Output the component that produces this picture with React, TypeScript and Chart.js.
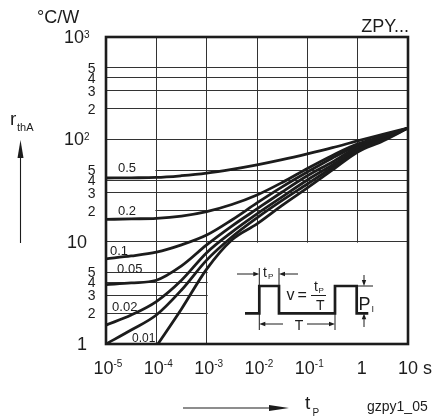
import { useEffect, useRef } from 'react';
import { Chart, registerables } from 'chart.js';

Chart.register(...registerables);

const FONT = '"Liberation Sans", Arial, Helvetica, sans-serif';
const INK = '#1c1c1c';

// pulse duration t_P in seconds (half-decade steps)
const tp = [1e-5, 3.16e-5, 1e-4, 3.16e-4, 1e-3, 3.16e-3, 1e-2, 3.16e-2, 1e-1, 0.316, 1, 3.16, 10];

// r_thA in °C/W for each duty cycle v
const r05 = [41.9, 42.1, 42.4, 44.1, 46.7, 50.8, 56.2, 63.2, 72.0, 82.8, 96.5, 111.6, 129];
const r02 = [16.5, 16.7, 16.9, 17.8, 19.7, 23.1, 28.6, 37.9, 51.9, 69.6, 90.2, 106.7, 129];
const r01 = [6.8, 7.25, 7.9, 9.3, 11.6, 16.3, 23.9, 34.3, 47.9, 65.8, 87.2, 105.6, 129];
const r005 = [3.8, 3.95, 4.2, 5.8, 9.3, 14.2, 20.9, 30.6, 44, 60.1, 84.3, 103.2, 129];
const r002 = [1.53, 1.92, 2.6, 4.2, 7.8, 12.4, 18.7, 27.4, 40.1, 56.2, 80.5, 100.8, 129];
const r001 = [1.0, 1.37, 1.92, 3.37, 6.6, 11.1, 17.1, 25.3, 36.6, 53.1, 77.9, 98.7, 129];
const rSingle = [null, null, 0.95, 2.2, 5.4, 10.4, 14.9, 22.6, 33.5, 50.2, 75.3, 96.5, 129];

const series = [r05, r02, r01, r005, r002, r001, rSingle];

// curve labels
const curveNames = ['0.5', '0.2', '0.1', '0.05', '0.02', '0.01'];
const labelT = [1.73e-5, 1.73e-5, 1.2e-5, 1.66e-5, 1.32e-5, 3.29e-5];
const labelV = [48, 18.2, 7.4, 4.94, 2.1, 1.05];

// axis ticks
const xTicks = [1e-5, 1e-4, 1e-3, 1e-2, 1e-1, 1, 10];
const xTickBase = ['10', '10', '10', '10', '10', '1', '10 s'];
const xTickSup = ['-5', '-4', '-3', '-2', '-1', '', ''];

const yTicks = [1, 2, 3, 4, 5, 10, 20, 30, 40, 50, 100, 200, 300, 400, 500, 1000];
const yTickBase = ['1', '2', '3', '4', '5', '10', '2', '3', '4', '5', '10', '2', '3', '4', '5', '10'];
const yTickSup = ['', '', '', '', '', '', '', '', '', '', '2', '', '', '', '', '3'];
const yTickMajor = [true, false, false, false, false, true, false, false, false, false, true, false, false, false, false, true];

function txt(ctx: CanvasRenderingContext2D, s: string, x: number, y: number, size: number, align: CanvasTextAlign = 'left') {
  ctx.font = `${size}px ${FONT}`;
  ctx.textAlign = align;
  ctx.textBaseline = 'alphabetic';
  ctx.fillText(s, x, y);
}

function head(ctx: CanvasRenderingContext2D, x: number, y: number, dir: string, len = 6, hw = 2.2) {
  ctx.beginPath();
  ctx.moveTo(x, y);
  if (dir === 'r') { ctx.lineTo(x - len, y - hw); ctx.lineTo(x - len, y + hw); }
  if (dir === 'l') { ctx.lineTo(x + len, y - hw); ctx.lineTo(x + len, y + hw); }
  if (dir === 'u') { ctx.lineTo(x - hw, y + len); ctx.lineTo(x + hw, y + len); }
  if (dir === 'd') { ctx.lineTo(x - hw, y - len); ctx.lineTo(x + hw, y - len); }
  ctx.closePath();
  ctx.fill();
}

function line(ctx: CanvasRenderingContext2D, pts: number[][], w: number) {
  ctx.lineWidth = w;
  ctx.beginPath();
  pts.forEach((p, i) => (i ? ctx.lineTo(p[0], p[1]) : ctx.moveTo(p[0], p[1])));
  ctx.stroke();
}

const decor = {
  id: 'decor',
  beforeDatasetsDraw(chart: any) {
    const { ctx, chartArea: a, scales } = chart;
    const x = scales.x, y = scales.y;
    ctx.save();
    ctx.fillStyle = '#fff';
    // blank region holding the pulse diagram
    const bx = x.getPixelForValue(1e-3) + 1;
    const by = y.getPixelForValue(10) + 1;
    ctx.fillRect(bx, by, a.right - bx, a.bottom - by);
    // gaps in grid behind the 0.5 and 0.2 labels
    const x0 = x.getPixelForValue(1e-5) + 1;
    const x1 = x.getPixelForValue(1e-4) - 1;
    [50, 20].forEach((v) => {
      const py = y.getPixelForValue(v);
      ctx.fillRect(x0, py - 2, x1 - x0, 4);
    });
    ctx.restore();
  },
  afterDatasetsDraw(chart: any) {
    const { ctx, chartArea: a, scales } = chart;
    const x = scales.x, y = scales.y;
    ctx.save();
    ctx.fillStyle = INK;
    ctx.strokeStyle = INK;
    ctx.lineCap = 'butt';
    ctx.lineJoin = 'miter';

    // frame
    ctx.lineWidth = 2.6;
    ctx.strokeRect(a.left, a.top, a.right - a.left, a.bottom - a.top);

    // curve labels
    curveNames.forEach((s, i) => {
      txt(ctx, s, x.getPixelForValue(labelT[i]), y.getPixelForValue(labelV[i]), i === 5 ? 12 : 13);
    });

    // y tick labels
    yTicks.forEach((v, i) => {
      const py = y.getPixelForValue(v);
      if (yTickSup[i]) {
        txt(ctx, yTickBase[i], a.left - 22, py + 6, 18, 'right');
        txt(ctx, yTickSup[i], a.left - 22, py + 1, 10, 'left');
      } else if (yTickMajor[i]) {
        txt(ctx, yTickBase[i], a.left - 19, py + 6, 18, 'right');
      } else {
        txt(ctx, yTickBase[i], a.left - 10.5, py + 5, 14, 'right');
      }
    });

    // x tick labels
    xTicks.forEach((v, i) => {
      const px = x.getPixelForValue(v);
      const base = a.bottom + 30;
      if (xTickSup[i]) {
        txt(ctx, xTickBase[i], px - 12.5, base, 18);
        txt(ctx, xTickSup[i], px + 7.5, base - 7, 10);
      } else if (xTickBase[i] === '1') {
        txt(ctx, '1', px - 1, base, 18);
      } else {
        txt(ctx, xTickBase[i], px - 10, base, 18);
      }
    });

    // unit & type
    txt(ctx, '°C/W', 37, 23, 18);
    txt(ctx, 'ZPY...', a.right + 1, 32, 18, 'right');

    // y axis name with arrow
    txt(ctx, 'r', 10, 125, 19);
    txt(ctx, 'thA', 17, 130.5, 11);
    line(ctx, [[20.5, 243], [20.5, 150]], 1.1);
    head(ctx, 20.5, 140, 'u', 18, 3);

    // x axis name with arrow
    line(ctx, [[183, 408], [275, 408]], 1.1);
    head(ctx, 289, 408, 'r', 20, 3);
    txt(ctx, 't', 305, 409, 19);
    txt(ctx, 'P', 312.5, 416, 10);
    txt(ctx, 'gzpy1_05', 367, 411, 14);

    // pulse diagram
    line(ctx, [[245, 313.3], [259.3, 313.3], [259.3, 286], [279, 286], [279, 313.3], [335, 313.3], [335, 286], [356.7, 286], [356.7, 313.3], [368.3, 313.3]], 2.7);
    // t_P dimension
    line(ctx, [[259.3, 268], [259.3, 286]], 1);
    line(ctx, [[279, 268], [279, 286]], 1);
    line(ctx, [[237, 274], [254, 274]], 1);
    head(ctx, 259.3, 274, 'r');
    line(ctx, [[284, 274], [298, 274]], 1);
    head(ctx, 279, 274, 'l');
    txt(ctx, 't', 263, 277, 14);
    txt(ctx, 'P', 268, 279, 8);
    // v = tP / T
    txt(ctx, 'v', 286.5, 300, 16);
    txt(ctx, '=', 297.5, 300, 16);
    txt(ctx, 't', 314, 291, 14);
    txt(ctx, 'P', 318.5, 293, 8);
    line(ctx, [[311, 295.5], [326, 295.5]], 1);
    txt(ctx, 'T', 316, 310, 14);
    // P_I dimension
    line(ctx, [[356.7, 286], [373, 286]], 1);
    line(ctx, [[364, 275], [364, 281]], 1);
    head(ctx, 364, 286, 'd');
    line(ctx, [[364, 319], [364, 327]], 1);
    head(ctx, 364, 313.3, 'u');
    txt(ctx, 'P', 358.5, 310, 18);
    txt(ctx, 'I', 371.5, 312, 9);
    // T dimension
    line(ctx, [[259.3, 314], [259.3, 330]], 1);
    line(ctx, [[335, 314], [335, 330]], 1);
    line(ctx, [[264, 324], [283, 324]], 1);
    head(ctx, 259.3, 324, 'l');
    line(ctx, [[307, 324], [330, 324]], 1);
    head(ctx, 335, 324, 'r');
    txt(ctx, 'T', 299, 329.5, 14, 'center');

    ctx.restore();
  },
};

export default function App() {
  const ref = useRef<HTMLCanvasElement>(null);

  useEffect(() => {
    if (!ref.current) return;
    const chart = new Chart(ref.current, {
      type: 'line',
      data: {
        datasets: series.map((s) => ({
          data: tp.map((t, i) => ({ x: t, y: s[i] })),
          borderColor: INK,
          borderWidth: 2.8,
          pointRadius: 0,
          cubicInterpolationMode: 'monotone' as const,
          fill: false,
          spanGaps: false,
        })),
      },
      options: {
        responsive: false,
        maintainAspectRatio: false,
        animation: false,
        layout: { padding: { left: 106, right: 26, top: 37, bottom: 75 } },
        plugins: { legend: { display: false }, tooltip: { enabled: false } },
        scales: {
          x: {
            type: 'logarithmic',
            min: 1e-5,
            max: 10,
            afterBuildTicks: (s: any) => { s.ticks = xTicks.map((v) => ({ value: v })); },
            ticks: { display: false },
            grid: { color: '#333', lineWidth: 1, drawTicks: false, tickLength: 0 },
            border: { display: false },
          },
          y: {
            type: 'logarithmic',
            min: 1,
            max: 1000,
            afterBuildTicks: (s: any) => { s.ticks = yTicks.map((v) => ({ value: v })); },
            ticks: { display: false },
            grid: { color: '#333', lineWidth: 1, drawTicks: false, tickLength: 0 },
            border: { display: false },
          },
        },
      },
      plugins: [decor],
    } as any);
    return () => chart.destroy();
  }, []);

  return (
    <div style={{ position: 'absolute', left: 0, top: 0, width: 434, height: 419, background: '#fff' }}>
      <canvas ref={ref} width={434} height={419} style={{ display: 'block' }} />
    </div>
  );
}
